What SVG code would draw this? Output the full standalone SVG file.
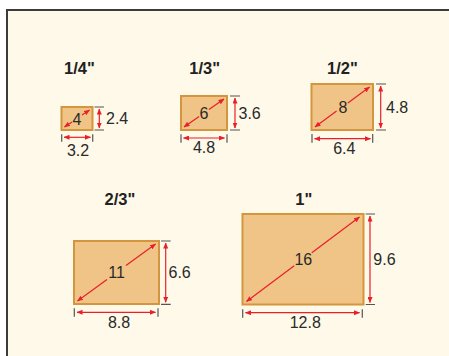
<svg xmlns="http://www.w3.org/2000/svg" width="449" height="356" viewBox="0 0 449 356">
<defs>
<marker id="ah" viewBox="0 0 6 5" markerUnits="userSpaceOnUse" markerWidth="6" markerHeight="5" refX="5.5" refY="2.5" orient="auto-start-reverse">
<path d="M0,0 L6,2.5 L0,5 Z" fill="#e8202a"/>
</marker>
</defs>
<style>
.sensor{fill:#f0c386;stroke:#d4953f;stroke-width:2}
.arr{stroke:#e8202a;stroke-width:1.2;fill:none}
.tick{stroke:#555;stroke-width:1.2;fill:none}
.t{font-family:"Liberation Sans",Arial,sans-serif;font-size:16px;fill:#2a2a2a}
.title{font-family:"Liberation Sans",Arial,sans-serif;font-size:16.5px;font-weight:bold;fill:#222;text-anchor:middle}
.c{text-anchor:middle}
</style>
<rect x="0" y="0" width="449" height="356" fill="#ffffff"/>
<rect x="7" y="10" width="442" height="346" fill="#fef9e8"/>
<path d="M7,356 V10 H449" fill="none" stroke="#3c3c3c" stroke-width="2"/>

<g id="s14">
<text class="title" x="79.5" y="74">1/4"</text>
<rect class="sensor" x="61.5" y="107" width="31" height="23"/>
<text class="t c" x="77" y="124.5">4</text>
<text class="t" x="106" y="124">2.4</text>
<text class="t c" x="78" y="156">3.2</text>
</g>
<g id="s13">
<text class="title" x="204.7" y="73.5">1/3"</text>
<rect class="sensor" x="181" y="96" width="46" height="34"/>
<text class="t c" x="204" y="119">6</text>
<text class="t" x="238.5" y="119">3.6</text>
<text class="t c" x="204" y="153">4.8</text>
</g>
<g id="s12">
<text class="title" x="342.5" y="74">1/2"</text>
<rect class="sensor" x="311.5" y="84" width="61.5" height="46"/>
<text class="t c" x="343" y="113">8</text>
<text class="t" x="386" y="113">4.8</text>
<text class="t c" x="344.3" y="154">6.4</text>
</g>
<g id="s23">
<text class="title" x="120" y="205">2/3"</text>
<rect class="sensor" x="74" y="241" width="85" height="63"/>
<text class="t c" x="116.5" y="278">11</text>
<text class="t" x="168.5" y="278.3">6.6</text>
<text class="t c" x="119" y="327.7">8.8</text>
</g>
<g id="s1">
<text class="title" x="303.8" y="205">1"</text>
<rect class="sensor" x="242.5" y="214" width="121" height="90.5"/>
<text class="t c" x="303.3" y="265">16</text>
<text class="t" x="373.3" y="265">9.6</text>
<text class="t c" x="305.3" y="328.3">12.8</text>
</g>

<g id="connectors">
<!-- diagonals -->
<path class="arr" d="M64.5,127 L72,121.9" marker-start="url(#ah)"/>
<path class="arr" d="M82,115.1 L89.5,110" marker-end="url(#ah)"/>
<path class="arr" d="M184,127 L199.1,116.4" marker-start="url(#ah)"/>
<path class="arr" d="M208.9,109.6 L224,99" marker-end="url(#ah)"/>
<path class="arr" d="M315,127 L336.6,111.1" marker-start="url(#ah)"/>
<path class="arr" d="M347.9,102.9 L369.5,87" marker-end="url(#ah)"/>
<path class="arr" d="M77.5,301 L107,279.4" marker-start="url(#ah)"/>
<path class="arr" d="M126,265.6 L155.5,244" marker-end="url(#ah)"/>
<path class="arr" d="M246.5,301.5 L294.2,265.8" marker-start="url(#ah)"/>
<path class="arr" d="M311.8,252.7 L359.5,217" marker-end="url(#ah)"/>
<!-- ticks -->
<path class="tick" d="M94.5,107 H104 M94.5,130 H104 M61.7,134.3 V141.8 M92.7,134.3 V141.8"/>
<path class="tick" d="M230,96 H240 M230,130 H240 M181,134.3 V142.7 M227,134.3 V142.7"/>
<path class="tick" d="M376,84 H386 M376,130 H386 M312,134 V142.7 M372.7,134 V142.7"/>
<path class="tick" d="M161,241 H170.7 M161,304.3 H170.7 M74.3,308.3 V316.7 M158,308.3 V316.7"/>
<path class="tick" d="M365.7,214 H375 M365.7,304.5 H375 M242.7,309.3 V317.7 M362.3,309.3 V317.7"/>
<!-- dimension arrows -->
<path class="arr" d="M99.3,109 V128" marker-start="url(#ah)" marker-end="url(#ah)"/>
<path class="arr" d="M64,137.3 H90.5" marker-start="url(#ah)" marker-end="url(#ah)"/>
<path class="arr" d="M235,98 V128" marker-start="url(#ah)" marker-end="url(#ah)"/>
<path class="arr" d="M183.5,138 H224.5" marker-start="url(#ah)" marker-end="url(#ah)"/>
<path class="arr" d="M380.7,86 V128" marker-start="url(#ah)" marker-end="url(#ah)"/>
<path class="arr" d="M314.5,138.7 H370.5" marker-start="url(#ah)" marker-end="url(#ah)"/>
<path class="arr" d="M165.7,243 V302.3" marker-start="url(#ah)" marker-end="url(#ah)"/>
<path class="arr" d="M77,312.3 H155.5" marker-start="url(#ah)" marker-end="url(#ah)"/>
<path class="arr" d="M370,216 V302.5" marker-start="url(#ah)" marker-end="url(#ah)"/>
<path class="arr" d="M245.5,312.7 H359.5" marker-start="url(#ah)" marker-end="url(#ah)"/>
</g>
</svg>
